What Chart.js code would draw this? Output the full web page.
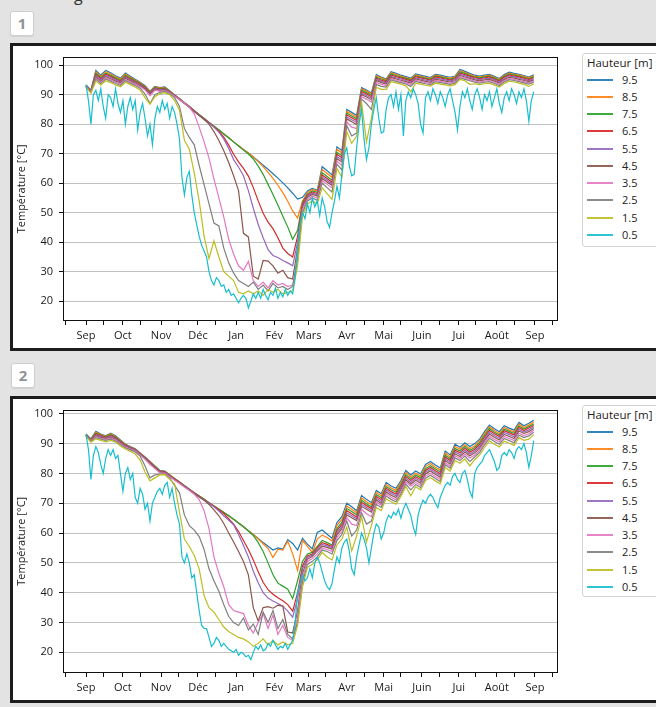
<!DOCTYPE html>
<html><head><meta charset="utf-8">
<script src="https://cdn.jsdelivr.net/npm/chart.js@4.4.1/dist/chart.umd.min.js"></script>
<style>
html,body{margin:0;padding:0;}
body{width:656px;height:707px;overflow:hidden;background:#e2e3e2;position:relative;font-family:"Open Sans",sans-serif;}
.lab{position:absolute;width:22px;height:23px;background:#fff;border:1px solid #cdd0d1;border-radius:3px;color:#8e9397;font-weight:bold;font-size:15px;line-height:23px;text-align:center;box-shadow:0 1px 1px rgba(0,0,0,0.08)}
.panel{position:absolute;left:10px;width:720px;background:#fff;border:3px solid #1c1c1c;box-sizing:border-box;}
canvas{position:absolute;left:0;}
.legend{position:absolute;left:582px;width:100px;background:#fff;border:1px solid #d3d3d3;border-radius:3px;box-sizing:border-box;}
.legend .ttl{position:absolute;left:4px;font-size:11.5px;color:#222;white-space:nowrap;line-height:16px}
.legend .row{position:absolute;left:0;height:16px;width:98px}
.legend .ln{position:absolute;left:4px;top:7px;width:26px;height:2px;opacity:0.9}
.legend .tx{position:absolute;left:39px;top:0;font-size:11px;line-height:16px;color:#222}
.top{position:absolute;left:74px;top:-16px;font-size:16px;color:#333}
</style></head>
<body>
<div class="top">g</div>
<div class="lab" style="left:10px;top:11px">1</div>
<div class="panel" style="top:43px;height:308px"></div>
<div class="lab" style="left:11px;top:363px">2</div>
<div class="panel" style="top:396px;height:307px"></div>
<canvas id="c1" width="656" height="302" style="top:44px"></canvas>
<canvas id="c2" width="656" height="301" style="top:397px"></canvas>
<div class="legend" id="lg1" style="top:53px;height:194px"></div>
<div class="legend" id="lg2" style="top:405px;height:192px"></div>
<script>
// ---------- axis / categories ----------
const MONTH_DAYS = [0,30,61,91,122,153,181,212,242,273,303,334,365];
const MONTH_LABELS = ['Sep','Oct','Nov','Déc','Jan','Fév','Mars','Avr','Mai','Juin','Jui','Août','Sep'];
const MID_DAYS = [-17,14,44,75,105,136,167,195,226,256,287,317,348,379];
const Y_TICKS = [20,30,40,50,60,70,80,90,100];
const HEIGHTS = ['9.5','8.5','7.5','6.5','5.5','4.5','3.5','2.5','1.5','0.5'];
const COLORS = ['#1f77b4','#ff7f0e','#2ca02c','#d62728','#9467bd','#8c564b','#e377c2','#7f7f7f','#bcbd22','#17becf'];
const Y_TITLE = 'Température [°C]';
const LEGEND_TITLE = 'Hauteur [m]';

// days since 1 Sep
const DAYS = [0,4,8,12,16,20,24,28,32,36,40,44,48,52,56,60,64,68,72,76,80,84,88,92,96,100,104,108,112,116,120,124,128,132,136,140,144,148,152,156,160,164,168,172,176,180,184,188,192,196,200,204,208,212,216,220,224,228,232,236,240,244,248,252,256,260,264,268,272,276,280,284,288,292,296,300,304,308,312,316,320,324,328,332,336,340,344,348,352,356,360,364];
const DAYS_FINE = [0,2,4,6,8,10,12,14,16,18,20,22,24,26,28,30,32,34,36,38,40,42,44,46,48,50,52,54,56,58,60,62,64,66,68,70,72,74,76,78,80,82,84,86,88,90,92,94,96,98,100,102,104,106,108,110,112,114,116,118,120,122,124,126,128,130,132,134,136,138,140,142,144,146,148,150,152,154,156,158,160,162,164,166,168,170,172,174,176,178,180,182,184,186,188,190,192,194,196,198,200,202,204,206,208,210,212,214,216,218,220,222,224,226,228,230,232,234,236,238,240,242,244,246,248,250,252,254,256,258,260,262,264,266,268,270,272,274,276,278,280,282,284,286,288,290,292,294,296,298,300,302,304,306,308,310,312,314,316,318,320,322,324,326,328,330,332,334,336,338,340,342,344,346,348,350,352,354,356,358,360,362,364];

// ---------- panel 1 ----------
const P1_95 = [93.3,91.5,98.2,96.6,98.2,97.4,96.4,95.6,97.3,96.2, 95.2,94.2,93.0,91.2,92.8,92.4,92.6,91.3,89.9,88.6, 87.3,86.0,84.6,83.2,81.9,80.6,79.3,78.0,76.7,75.4, 74.0,72.7,71.4,70.2,68.9,67.5,66.1,64.7,63.2,61.7, 60.1,58.4,56.6,54.6,55.2,57.4,58.2,57.6,65.6,64.2, 62.8,72.3,71.0,85.0,84.0,83.0,92.4,91.6,90.6,96.8, 96.0,95.3,97.8,97.2,96.6,96.1,95.6,97.0,96.6,96.2, 95.8,96.9,96.6,96.2,95.9,96.3,98.5,97.9,97.2,96.6, 96.3,96.6,96.9,96.2,95.5,96.8,97.6,97.2,96.9,96.5, 96.0,96.7];
const P1_85 = [93.2,91.4,97.7,96.2,97.8,97.0,96.1,95.3,97.0,95.9, 95.0,94.0,92.8,91.0,92.6,92.2,92.4,91.2,89.9,88.6, 87.3,86.0,84.6,83.2,81.9,80.6,79.3,78.0,76.7,75.4, 74.0,72.7,71.4,70.2,68.9,67.3,65.6,63.7,61.6,59.3, 56.8,53.9,50.6,48.2,54.0,56.9,57.9,57.3,64.6,63.3, 62.0,71.5,70.2,84.4,83.4,82.4,92.0,91.2,90.2,96.4, 95.7,95.0,97.4,96.9,96.3,95.8,95.3,96.7,96.3,95.9, 95.5,96.6,96.3,95.9,95.6,96.0,98.1,97.5,96.9,96.3, 96.0,96.3,96.6,95.9,95.2,96.5,97.3,96.9,96.6,96.2, 95.7,96.4];
const P1_75 = [93.1,91.3,97.2,95.8,97.3,96.6,95.7,94.9,96.6,95.6, 94.7,93.8,92.6,90.8,92.4,92.0,92.2,91.1,89.9,88.6, 87.3,86.0,84.6,83.2,81.9,80.6,79.3,78.0,76.7,75.4, 74.0,72.6,71.2,69.9,68.2,65.8,63.0,59.6,56.2,52.6, 48.8,45.2,41.0,44.0,53.5,56.4,57.4,56.9,63.5,62.3, 61.0,70.5,69.3,83.7,82.8,81.8,91.5,90.7,89.8,96.0, 95.3,94.7,97.0,96.5,96.0,95.5,95.0,96.4,96.0,95.6, 95.2,96.3,96.0,95.6,95.3,95.7,97.7,97.2,96.6,96.0, 95.7,96.0,96.3,95.6,94.9,96.2,97.0,96.6,96.3,95.9, 95.4,96.1];
const P1_65 = [93.0,91.2,96.8,95.4,96.9,96.2,95.3,94.6,96.2,95.3, 94.4,93.5,92.4,90.6,92.2,91.8,92.0,91.0,89.8,88.5, 87.2,85.9,84.5,83.1,81.8,80.5,79.1,77.6,75.6,72.9, 69.8,67.2,65.0,62.4,58.5,54.0,49.8,46.8,44.6,41.5, 38.0,36.2,35.0,42.0,53.0,56.0,57.0,56.5,62.8,61.6, 60.3,69.8,68.6,83.1,82.2,81.2,91.0,90.2,89.3,95.6, 94.9,94.4,96.6,96.1,95.7,95.2,94.7,96.1,95.7,95.3, 94.9,96.0,95.7,95.3,95.0,95.4,97.3,96.8,96.3,95.7, 95.4,95.7,96.0,95.3,94.6,95.9,96.7,96.3,96.0,95.6, 95.1,95.8];
const P1_55 = [92.9,91.1,96.4,95.0,96.5,95.8,95.0,94.3,95.9,95.0, 94.1,93.3,92.2,90.4,92.0,91.6,91.8,90.9,89.7,88.4, 87.1,85.8,84.4,83.0,81.7,80.4,79.0,77.3,75.0,71.8, 68.0,65.5,62.5,57.5,51.5,46.0,41.5,37.5,35.5,34.8, 33.8,33.0,32.0,40.0,52.5,55.6,56.6,56.1,62.1,61.0, 59.7,69.0,67.9,82.4,81.5,80.6,90.5,89.7,88.8,95.2, 94.5,94.0,96.2,95.7,95.3,94.8,94.3,95.7,95.3,94.9, 94.6,95.6,95.3,95.0,94.7,95.1,96.9,96.4,95.9,95.4, 95.1,95.4,95.6,95.0,94.3,95.5,96.3,96.0,95.6,95.2, 94.8,95.4];
const P1_45 = [92.8,91.0,96.0,94.6,96.1,95.4,94.6,94.0,95.5,94.7, 93.8,93.0,92.0,90.2,91.8,91.4,91.6,90.8,89.6,88.3, 87.0,85.7,84.3,82.9,81.6,80.0,77.5,74.5,71.0,67.0, 62.5,57.5,43.0,41.8,28.5,27.5,33.8,33.6,32.0,29.5, 30.5,28.0,27.5,38.0,52.0,55.2,56.2,55.7,61.5,60.4, 59.2,68.3,67.2,81.8,80.8,79.9,90.0,89.2,88.3,94.8, 94.1,93.6,95.8,95.3,94.9,94.4,93.9,95.3,94.9,94.5, 94.2,95.2,94.9,94.6,94.3,94.7,96.5,96.0,95.5,95.0, 94.7,95.0,95.2,94.6,93.9,95.1,95.9,95.6,95.2,94.8, 94.4,95.0];
const P1_35 = [92.7,90.9,95.6,94.2,95.7,95.0,94.2,93.6,95.1,94.3, 93.5,92.7,91.6,89.6,91.5,91.2,91.4,90.6,89.5,88.3, 87.2,85.7,83.5,79.0,74.0,68.5,61.5,55.0,48.5,41.0, 35.9,32.0,30.5,33.5,27.0,25.0,26.5,24.5,27.0,25.5, 26.0,25.0,25.5,35.0,51.0,54.6,55.6,55.0,60.8,59.6, 58.4,67.5,66.0,80.8,79.0,78.5,89.3,88.5,87.5,94.2, 93.5,93.1,95.4,94.9,94.5,94.0,93.4,94.9,94.5,94.1, 93.8,94.8,94.5,94.2,93.9,94.3,96.1,95.6,95.1,94.6, 94.3,94.6,94.8,94.2,93.5,94.7,95.5,95.2,94.8,94.4, 94.0,94.6];
const P1_25 = [92.6,90.8,95.2,93.8,95.3,94.6,93.8,93.2,94.7,93.9, 93.1,92.2,90.2,87.0,90.0,90.8,91.1,90.3,89.0,86.0, 78.5,75.5,73.0,66.0,59.5,53.0,46.5,45.5,38.0,33.0, 29.5,27.0,26.0,25.0,26.5,24.0,25.5,23.5,26.0,24.5, 25.0,24.0,25.0,34.0,50.0,54.0,55.0,54.2,60.0,58.5, 57.0,66.5,64.5,79.5,76.0,77.0,88.5,87.0,85.0,93.5, 92.8,92.6,95.0,94.5,94.1,93.6,92.8,94.5,94.1,93.7, 93.4,94.4,94.1,93.8,93.5,93.9,95.7,95.2,94.7,94.2, 93.9,94.2,94.4,93.8,93.1,94.3,95.1,94.8,94.4,94.0, 93.6,94.2];
const P1_15 = [92.5,90.5,94.6,93.3,94.7,94.1,93.3,92.7,94.2,93.4, 92.6,91.6,89.0,86.8,89.3,90.3,90.7,90.0,88.0,84.7, 74.5,71.5,63.5,54.0,42.0,34.5,40.5,35.0,30.0,28.5, 27.0,23.0,22.5,23.5,22.5,23.5,22.0,24.0,23.0,24.0, 22.5,23.0,23.5,32.0,49.0,53.0,54.0,53.0,58.5,56.5, 54.5,65.0,62.0,77.5,73.5,76.0,87.5,74.0,82.0,92.5, 91.8,91.8,94.4,94.0,93.6,93.0,91.0,93.9,93.6,93.2, 92.9,93.9,93.6,93.3,93.0,93.4,95.2,94.7,93.5,93.7, 93.4,93.7,93.9,93.3,92.6,93.8,94.6,94.3,93.9,93.5, 92.8,93.7];
const P1_05 = [93.3,88,80,90,91.5,88,92,86,82,90, 89,86,92,87,84,88,80,86,89,85, 88,78,84,87,82,76,80,73,82,86, 84,88,85,87,82,86,84,80,75,62, 56,62,64,56,50,46,42,39,37,35, 30,27,25.5,28,27,25,25.5,23,24,22, 22.5,21,19.5,21,22,21,17.7,20,22.5,21, 23,21,24,22,20.5,23,22,24.5,21,23, 21.5,24,22,23.5,22.5,28,38,46,50,48, 53,50,55,52,54,49,55,52,47,45, 50,54,59,55,63,70,72,66,62.5,63, 72,80,85,75,68,72,80,85,89,82, 77,77.5,85,89,90,86,91,85,90,76, 88,91,89,92,90,87,80,77,89,91, 88,92,90,87,91,89,86,90,92,88, 84,78,86,91,89,92,88,85,90,92, 89,85,90,88,91,86,89,92,87,84, 89,91,88,92,90,87,91,89,92,88, 81,88,91];

// ---------- panel 2 ----------
const P2_95 = [93.2,91.6,94.1,93.2,92.6,93.5,92.6,91.2,89.8,89.0, 88.3,86.9,85.5,84.0,82.5,81.0,80.8,79.6,78.3,77.1, 75.9,74.7,73.5,72.4,71.3,70.2,69.1,68.0,66.9,65.8, 64.6,63.4,62.1,60.8,59.5,58.2,56.8,55.6,54.3,55.0, 54.6,57.8,56.5,54.3,58.2,56.3,54.7,60.2,61.0,59.6, 58.3,63.5,65.5,70.0,68.8,67.5,72.6,71.3,70.2,74.3, 73.2,77.0,75.8,75.0,77.6,81.0,79.5,80.8,79.8,83.0, 84.0,82.8,81.8,87.5,86.2,89.8,88.8,90.3,89.0,90.0, 91.5,94.0,96.2,95.0,94.0,96.0,95.2,94.5,97.1,96.0, 96.8,97.8];
const P2_85 = [93.1,91.4,93.8,93.0,92.4,93.3,92.4,91.0,89.7,88.9, 88.2,86.8,85.4,83.9,82.4,80.9,80.7,79.5,78.3,77.1, 75.9,74.7,73.5,72.4,71.3,70.2,69.1,68.0,66.9,65.8, 64.6,63.4,62.1,60.8,59.5,58.0,56.4,54.8,51.8,54.6, 54.3,57.3,53.0,47.5,57.5,55.5,53.5,58.0,59.3,58.5, 57.3,62.6,64.6,69.1,68.0,66.8,71.8,70.5,69.5,73.6, 72.5,76.3,75.1,74.3,76.9,80.3,78.8,80.1,79.1,82.3, 83.3,82.1,81.1,86.8,85.5,89.1,88.1,89.6,88.3,89.3, 90.9,93.4,95.6,94.4,93.4,95.4,94.6,93.9,96.5,95.4, 96.2,97.2];
const P2_75 = [93.0,91.3,93.5,92.8,92.2,93.0,92.2,90.8,89.6,88.8, 88.1,86.7,85.3,83.8,82.3,80.8,80.6,79.4,78.2,77.1, 75.9,74.7,73.5,72.4,71.3,70.2,69.1,68.0,66.9,65.8, 64.6,63.4,62.1,60.7,59.2,56.8,53.8,50.0,46.0,43.2, 42.2,41.2,38.0,44.0,50.5,53.0,53.5,55.5,57.5,56.8, 56.0,61.5,63.6,68.2,67.2,66.1,71.0,69.8,68.8,72.9, 71.8,75.6,74.5,73.7,76.3,79.6,78.2,79.5,78.5,81.6, 82.6,81.5,80.5,86.1,84.9,88.4,87.5,89.0,87.7,88.7, 90.3,92.8,95.0,93.8,92.9,94.8,94.1,93.4,95.9,94.9, 95.7,96.6];
const P2_65 = [92.9,91.2,93.2,92.6,92.0,92.7,92.0,90.6,89.5,88.7, 88.0,86.6,85.2,83.7,82.2,80.7,80.5,79.3,78.1,77.0, 75.8,74.6,73.4,72.3,71.2,70.1,69.0,67.8,66.5,64.8, 63.0,60.5,57.5,54.5,51.0,47.0,43.5,41.0,39.5,38.3, 37.3,36.0,33.8,40.0,49.0,52.3,53.0,55.0,56.8,56.2, 55.5,60.8,62.9,67.5,66.5,65.4,70.3,69.2,68.2,72.3, 71.2,75.0,73.9,73.1,75.7,79.0,77.6,78.9,77.9,81.0, 82.0,80.9,79.9,85.5,84.3,87.8,86.9,88.4,87.1,88.1, 89.7,92.2,94.4,93.3,92.4,94.3,93.6,92.9,95.4,94.4, 95.2,96.1];
const P2_55 = [92.8,91.1,92.9,92.4,91.8,92.4,91.8,90.4,89.3,88.6, 87.9,86.5,85.1,83.6,82.1,80.6,80.4,79.2,78.0,76.9, 75.7,74.5,73.3,72.2,71.1,70.0,68.8,67.4,65.8,64.3, 62.8,59.5,55.8,52.0,47.2,43.3,40.0,38.2,37.2,36.4, 35.5,33.8,31.8,38.0,48.0,51.8,52.6,54.5,56.2,55.7, 55.1,60.1,62.2,66.8,65.8,64.8,69.6,68.6,67.6,71.7, 70.6,74.4,73.3,72.5,75.1,78.4,77.0,78.3,77.3,80.4, 81.4,80.3,79.3,84.9,83.7,87.2,86.3,87.8,86.5,87.5, 89.1,91.6,93.8,92.7,91.8,93.7,93.0,92.3,94.8,93.9, 94.6,95.6];
const P2_45 = [92.7,91.0,92.6,92.1,91.6,92.1,91.5,90.2,89.1,88.4, 87.7,86.4,85.0,83.5,82.0,80.5,80.3,79.1,77.9,76.8, 75.6,74.4,73.2,72.1,71.0,69.6,67.8,65.8,63.2,60.0, 57.0,53.8,50.5,46.0,35.0,30.5,35.0,35.3,34.8,35.8, 35.5,26.8,26.5,34.0,46.5,51.2,52.2,54.0,55.6,55.2, 54.6,59.4,61.5,66.1,65.1,64.2,68.9,68.0,67.0,71.1, 70.0,73.8,72.7,71.9,74.5,77.8,76.4,77.7,76.7,79.8, 80.8,79.7,78.7,84.3,83.1,86.6,85.7,87.2,85.9,86.9, 88.5,91.0,93.2,92.1,91.2,93.1,92.4,91.7,94.2,93.4, 94.0,95.1];
const P2_35 = [92.6,90.9,92.3,91.8,91.4,91.8,91.2,90.0,88.9,88.2, 87.5,86.2,84.7,83.0,81.6,80.2,80.1,78.9,77.7,76.6, 75.4,74.3,73.0,71.2,67.5,61.5,52.0,46.5,42.0,36.0, 34.0,33.5,33.0,29.0,26.5,30.0,33.0,28.0,32.5,26.0, 29.0,25.0,24.0,32.0,45.0,50.5,51.5,53.0,55.0,54.5, 53.8,58.5,60.5,65.2,63.0,62.5,68.0,66.5,65.5,70.4, 69.3,73.1,72.0,71.2,73.8,77.1,75.7,77.0,76.0,79.1, 80.1,79.0,78.0,83.6,82.4,85.9,85.0,86.5,85.2,86.2, 87.8,90.3,92.5,91.4,90.5,92.4,91.7,91.0,93.5,92.7, 93.3,94.5];
const P2_25 = [92.5,90.8,92.0,91.5,91.1,91.5,90.9,89.7,88.6,87.9, 87.2,85.8,82.5,78.5,79.5,79.8,79.8,78.5,76.0,73.5, 66.0,62.5,61.0,58.8,54.5,48.0,44.0,40.5,36.0,32.0, 30.0,29.0,31.5,27.5,29.5,26.0,33.5,30.0,34.0,28.0, 31.0,26.0,24.5,30.0,43.5,49.5,50.5,52.0,54.3,53.8, 53.0,57.5,59.5,64.0,59.0,61.0,66.8,63.0,64.0,69.6, 68.6,72.4,71.3,70.5,73.1,76.4,74.5,76.3,75.3,78.4, 79.4,78.3,77.3,82.9,81.7,85.2,84.3,85.8,84.0,85.5, 87.1,89.6,91.8,90.7,89.8,91.7,91.0,90.3,92.8,92.0, 92.6,93.8];
const P2_15 = [92.4,90.5,91.6,91.1,90.6,91.1,90.5,89.2,88.2,87.4, 86.5,84.5,80.5,77.5,78.5,79.5,79.6,78.0,76.5,67.0, 58.0,55.5,52.5,48.0,39.0,35.0,33.5,31.0,28.5,27.0, 26.0,25.0,24.5,23.5,22.0,23.0,24.5,22.5,24.0,22.5, 23.5,22.5,23.0,29.0,42.0,48.5,49.5,51.0,53.5,52.0, 51.0,56.0,58.0,62.0,54.0,59.0,65.5,57.0,62.5,68.6, 67.5,71.5,70.5,69.7,72.3,75.6,72.5,75.5,74.5,77.6, 78.6,77.5,76.5,82.0,80.8,84.3,83.4,84.9,82.5,84.6, 86.2,88.7,90.9,89.8,88.9,90.8,90.1,89.4,92.0,91.1, 91.5,93.0];
const P2_05 = [93,88,78,86,89,87,83,80,85,88, 86,88,85,86,80,74,80,82,78,80, 72,70,75,73,68,70,64,70,72,74, 75,73,76,77,72,75,70,66,63,52, 50,53,50,45,46,40,34,29,28,28, 25,22,23,25,24,22,23,22,21,20.5, 20,21,19,20,19.5,18.5,19,17.5,20,22, 21,22.5,20.5,21,23,22,24,22.5,21,22, 21.5,23,21,22.5,24,30,40,43,46,44, 45,48,45,50,52,50,47,44,42,41, 43,48,52,50,55,57,58,54,48,46, 52,56,60,58,55,50,55,60,63,62, 58,60,64,66,65,67,66,68,65,68, 70,68,66,62,59.5,66,69,71,70,72, 73,72,70,68.5,72,74,76,77,76,79, 80,78,77,80,81,78,74,72,80,82, 83,84,86,87,88,86,84,81,82,86, 87,86,88,87,85,88,89,88,90,87, 82,86,91];

const PANEL1 = [P1_95,P1_85,P1_75,P1_65,P1_55,P1_45,P1_35,P1_25,P1_15,P1_05];
const PANEL2 = [P2_95,P2_85,P2_75,P2_65,P2_55,P2_45,P2_35,P2_25,P2_15,P2_05];

const FONT = '"Open Sans", "DejaVu Sans", sans-serif';
const TXT = '#1a1a1a';

const framePlugin = {
  id: 'frame',
  afterDraw(chart) {
    const {ctx, chartArea: a} = chart;
    ctx.save();
    ctx.strokeStyle = '#111';
    ctx.lineWidth = 1;
    const l = Math.round(a.left) + 0.5, t = Math.round(a.top) + 0.5;
    const r = Math.round(a.right) - 0.5, b = Math.round(a.bottom) - 0.5;
    ctx.strokeRect(l, t, r - l, b - t);
    ctx.restore();
  }
};

function makeChart(id, series, yMin, yMax) {
  const datasets = series.map((vals, k) => {
    const xs = vals.length === DAYS_FINE.length ? DAYS_FINE : DAYS;
    return {
      label: HEIGHTS[k],
      data: xs.map((d, i) => ({x: d, y: vals[i]})),
      borderColor: COLORS[k],
      backgroundColor: COLORS[k],
      borderWidth: 1.2,
      pointRadius: 0,
      tension: 0,
      fill: false,
      order: 9 - k
    };
  });
  return new Chart(document.getElementById(id), {
    type: 'line',
    data: {datasets},
    plugins: [framePlugin],
    options: {
      responsive: false,
      animation: false,
      devicePixelRatio: 1,
      layout: {padding: {left: 13, top: 8, right: 98, bottom: 0}},
      plugins: {legend: {display: false}, tooltip: {enabled: false}},
      scales: {
        x: {
          type: 'linear', min: -18.7, max: 383.7,
          afterBuildTicks: s => { s.ticks = MONTH_DAYS.concat(MID_DAYS).sort((a, b) => a - b).map(v => ({value: v})); },
          afterFit: s => { s.height = 25; },
          ticks: {autoSkip: false, maxRotation: 0, padding: 4, color: TXT, font: {family: FONT, size: 11},
            callback: v => { const i = MONTH_DAYS.indexOf(v); return i >= 0 ? MONTH_LABELS[i] : ''; }},
          grid: {drawOnChartArea: false, drawTicks: true, tickLength: 4, tickColor: '#111'},
          border: {display: false}
        },
        y: {
          type: 'linear', min: yMin, max: yMax,
          afterBuildTicks: s => { s.ticks = Y_TICKS.map(v => ({value: v})); },
          afterFit: s => { s.width = 50; },
          ticks: {padding: 6, color: TXT, font: {family: FONT, size: 11}},
          grid: {color: '#c2c2c2', lineWidth: 1, tickLength: 4, tickColor: '#111'},
          border: {display: false},
          title: {display: true, text: Y_TITLE, color: TXT, font: {family: FONT, size: 11}, padding: {top: 2, bottom: 0}}
        }
      }
    }
  });
}

function makeLegend(id, chart) {
  const box = document.getElementById(id);
  const t = document.createElement('div');
  t.className = 'ttl'; t.style.top = '1px'; t.textContent = LEGEND_TITLE;
  box.appendChild(t);
  chart.data.datasets.forEach((ds, i) => {
    const row = document.createElement('div');
    row.className = 'row';
    row.style.top = Math.round(17.5 + i * 17.25) + 'px';
    const ln = document.createElement('div');
    ln.className = 'ln'; ln.style.background = ds.borderColor;
    const tx = document.createElement('div');
    tx.className = 'tx'; tx.textContent = ds.label;
    row.appendChild(ln); row.appendChild(tx);
    box.appendChild(row);
  });
}

const ch1 = makeChart('c1', PANEL1, 13.3, 102.9);
const ch2 = makeChart('c2', PANEL2, 13.07, 101.4);
makeLegend('lg1', ch1);
makeLegend('lg2', ch2);
</script>
</body></html>
